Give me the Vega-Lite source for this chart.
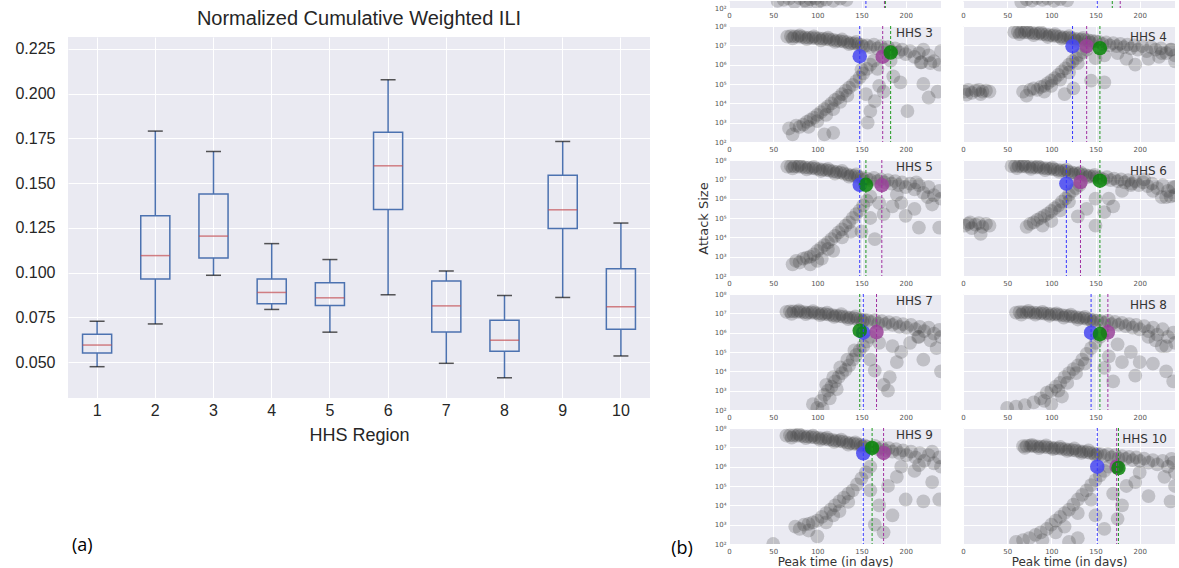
{
"$schema":"https://vega.github.io/schema/vega-lite/v6.json",
"background":"white",
"padding":{"left":14,"top":0,"right":0,"bottom":0},
"autosize":{"type":"pad"},
"config":{
 "view":{"fill":"#eaeaf2","stroke":null},
 "axis":{"domain":false,"ticks":false,"gridColor":"#ffffff","gridWidth":1,"gridOpacity":1,"labelFont":"DejaVu Sans","labelFontSize":7,"labelColor":"#555555","labelPadding":3,"titleFont":"DejaVu Sans","titleFontWeight":"normal","titleFontSize":12,"titleColor":"#333333"},
 "title":{"font":"DejaVu Sans","fontWeight":"normal"}
},
"datasets":{
"box":[
{"r":1,"lo":0.0474,"q1":0.0551,"med":0.0595,"q3":0.0655,"hi":0.0728},
{"r":2,"lo":0.0713,"q1":0.0964,"med":0.1095,"q3":0.1318,"hi":0.1791},
{"r":3,"lo":0.0985,"q1":0.1082,"med":0.1204,"q3":0.1439,"hi":0.1677},
{"r":4,"lo":0.0794,"q1":0.0826,"med":0.0889,"q3":0.0964,"hi":0.1162},
{"r":5,"lo":0.0667,"q1":0.0816,"med":0.0859,"q3":0.0943,"hi":0.1073},
{"r":6,"lo":0.0876,"q1":0.1353,"med":0.1597,"q3":0.1784,"hi":0.2078},
{"r":7,"lo":0.0493,"q1":0.0668,"med":0.0814,"q3":0.0953,"hi":0.1009},
{"r":8,"lo":0.0412,"q1":0.0560,"med":0.0622,"q3":0.0734,"hi":0.0872},
{"r":9,"lo":0.0861,"q1":0.1247,"med":0.1351,"q3":0.1544,"hi":0.1733},
{"r":10,"lo":0.0534,"q1":0.0683,"med":0.0809,"q3":0.1022,"hi":0.1277}
],
"est":[
{"p":1,"m":"blue","t":155,"a":5e6},{"p":1,"m":"purple","t":176,"a":5e6},{"p":1,"m":"green","t":177,"a":5e6},
{"p":2,"m":"blue","t":152,"a":5e6},{"p":2,"m":"purple","t":178,"a":5e6},{"p":2,"m":"green","t":169,"a":5e6},
{"p":3,"m":"blue","t":148,"a":2.75e6},{"p":3,"m":"purple","t":174,"a":2.6e6},{"p":3,"m":"green","t":183,"a":4.2e6},
{"p":4,"m":"blue","t":124,"a":9.1e6},{"p":4,"m":"purple","t":140,"a":9.1e6},{"p":4,"m":"green","t":155,"a":7.1e6},
{"p":5,"m":"blue","t":148,"a":5.2e6},{"p":5,"m":"purple","t":173,"a":5e6},{"p":5,"m":"green","t":155,"a":5.2e6},
{"p":6,"m":"blue","t":117,"a":6e6},{"p":6,"m":"purple","t":133,"a":7.2e6},{"p":6,"m":"green","t":155,"a":8.5e6},
{"p":7,"m":"blue","t":152,"a":1e6},{"p":7,"m":"purple","t":167,"a":1.07e6},{"p":7,"m":"green","t":148,"a":1.26e6},
{"p":8,"m":"blue","t":145,"a":1e6},{"p":8,"m":"purple","t":164,"a":1.05e6},{"p":8,"m":"green","t":155,"a":8.5e5},
{"p":9,"m":"blue","t":152,"a":4.9e6},{"p":9,"m":"purple","t":175,"a":5.1e6},{"p":9,"m":"green","t":162,"a":9.3e6},
{"p":10,"m":"blue","t":152,"a":1e6},{"p":10,"m":"purple","t":174,"a":1e6},{"p":10,"m":"green","t":176,"a":8.5e5}
],
"pts":[
{"p":1,"t":55,"a":230},{"p":1,"t":62,"a":260},{"p":1,"t":68,"a":300},{"p":1,"t":74,"a":200},{"p":1,"t":80,"a":320},{"p":1,"t":86,"a":250},{"p":1,"t":92,"a":290},{"p":1,"t":98,"a":310},{"p":1,"t":104,"a":240},{"p":1,"t":110,"a":270},{"p":1,"t":118,"a":230},{"p":1,"t":126,"a":300},{"p":1,"t":133,"a":260},{"p":1,"t":88,"a":180},{"p":1,"t":100,"a":190},
{"p":2,"t":66,"a":200},{"p":2,"t":72,"a":280},{"p":2,"t":78,"a":240},{"p":2,"t":84,"a":320},{"p":2,"t":90,"a":260},{"p":2,"t":96,"a":300},{"p":2,"t":103,"a":230},{"p":2,"t":110,"a":290},{"p":2,"t":118,"a":250},
{"p":3,"t":66,"a":2.8e7},{"p":3,"t":70,"a":3e7},{"p":3,"t":74,"a":2.9e7},{"p":3,"t":78,"a":2.8e7},{"p":3,"t":82,"a":2.7e7},{"p":3,"t":86,"a":2.6e7},{"p":3,"t":90,"a":2.5e7},{"p":3,"t":94,"a":2.45e7},{"p":3,"t":98,"a":2.35e7},{"p":3,"t":102,"a":2.3e7},{"p":3,"t":106,"a":2.2e7},{"p":3,"t":110,"a":2.1e7},{"p":3,"t":114,"a":2e7},{"p":3,"t":118,"a":1.9e7},{"p":3,"t":122,"a":1.75e7},{"p":3,"t":126,"a":1.65e7},{"p":3,"t":130,"a":1.55e7},{"p":3,"t":134,"a":1.45e7},{"p":3,"t":138,"a":1.3e7},{"p":3,"t":142,"a":1.25e7},{"p":3,"t":146,"a":1.15e7},{"p":3,"t":150,"a":1.05e7},
{"p":3,"t":72,"a":2.3e7},{"p":3,"t":80,"a":3.3e7},{"p":3,"t":88,"a":2.1e7},{"p":3,"t":96,"a":2.9e7},{"p":3,"t":104,"a":1.8e7},{"p":3,"t":112,"a":2.5e7},{"p":3,"t":120,"a":1.5e7},{"p":3,"t":128,"a":2e7},{"p":3,"t":136,"a":1.15e7},{"p":3,"t":144,"a":1.5e7},{"p":3,"t":152,"a":8.5e6},
{"p":3,"t":156,"a":1e7},{"p":3,"t":160,"a":8e6},{"p":3,"t":164,"a":1.1e7},{"p":3,"t":168,"a":7e6},{"p":3,"t":172,"a":9e6},{"p":3,"t":176,"a":6e6},{"p":3,"t":180,"a":8e6},{"p":3,"t":184,"a":5e6},{"p":3,"t":188,"a":7e6},{"p":3,"t":192,"a":4.5e6},{"p":3,"t":196,"a":6e6},{"p":3,"t":200,"a":3.5e6},{"p":3,"t":205,"a":5e6},{"p":3,"t":210,"a":2.5e6},{"p":3,"t":215,"a":4e6},{"p":3,"t":220,"a":6e6},{"p":3,"t":226,"a":3e6},{"p":3,"t":232,"a":1.5e6},{"p":3,"t":238,"a":1e6},{"p":3,"t":240,"a":5e6},{"p":3,"t":228,"a":1.2e6},{"p":3,"t":218,"a":1.3e6},
{"p":3,"t":68,"a":500},{"p":3,"t":72,"a":250},{"p":3,"t":76,"a":700},{"p":3,"t":80,"a":600},{"p":3,"t":84,"a":800},{"p":3,"t":88,"a":1100},{"p":3,"t":92,"a":1400},{"p":3,"t":96,"a":1800},{"p":3,"t":100,"a":2500},{"p":3,"t":104,"a":3500},{"p":3,"t":108,"a":5000},{"p":3,"t":112,"a":7000},{"p":3,"t":116,"a":1e4},{"p":3,"t":120,"a":1.5e4},{"p":3,"t":124,"a":2e4},{"p":3,"t":128,"a":3e4},{"p":3,"t":132,"a":4.5e4},{"p":3,"t":136,"a":6.5e4},{"p":3,"t":140,"a":9e4},{"p":3,"t":144,"a":1.4e5},{"p":3,"t":148,"a":2.2e5},{"p":3,"t":152,"a":3.5e5},{"p":3,"t":156,"a":6e5},{"p":3,"t":160,"a":1e6},{"p":3,"t":164,"a":1.6e6},{"p":3,"t":90,"a":600},{"p":3,"t":100,"a":1200},{"p":3,"t":110,"a":2500},{"p":3,"t":118,"a":5000},{"p":3,"t":126,"a":1.2e4},{"p":3,"t":134,"a":2.5e4},{"p":3,"t":108,"a":250},{"p":3,"t":118,"a":300},
{"p":3,"t":150,"a":5.6e5},{"p":3,"t":155,"a":3e4},{"p":3,"t":157,"a":1000},{"p":3,"t":160,"a":4000},{"p":3,"t":165,"a":1.3e4},{"p":3,"t":168,"a":6e5},{"p":3,"t":170,"a":8e4},{"p":3,"t":175,"a":4e4},{"p":3,"t":183,"a":1.6e6},{"p":3,"t":194,"a":1.2e5},{"p":3,"t":202,"a":4000},{"p":3,"t":217,"a":1.3e6},{"p":3,"t":220,"a":1e5},{"p":3,"t":226,"a":2e4},{"p":3,"t":236,"a":4e4},{"p":3,"t":186,"a":2.5e5},
{"p":4,"t":58,"a":4.8e7},{"p":4,"t":62,"a":5e7},{"p":4,"t":66,"a":4.8e7},{"p":4,"t":70,"a":4.7e7},{"p":4,"t":74,"a":4.5e7},{"p":4,"t":78,"a":4.4e7},{"p":4,"t":82,"a":4.2e7},{"p":4,"t":86,"a":4e7},{"p":4,"t":90,"a":3.8e7},{"p":4,"t":94,"a":3.6e7},{"p":4,"t":98,"a":3.4e7},{"p":4,"t":102,"a":3.2e7},{"p":4,"t":106,"a":3e7},{"p":4,"t":110,"a":2.8e7},{"p":4,"t":114,"a":2.6e7},{"p":4,"t":118,"a":2.5e7},{"p":4,"t":122,"a":2.35e7},{"p":4,"t":126,"a":2.2e7},{"p":4,"t":130,"a":2.1e7},{"p":4,"t":134,"a":2e7},{"p":4,"t":138,"a":1.9e7},{"p":4,"t":142,"a":1.8e7},{"p":4,"t":146,"a":1.7e7},{"p":4,"t":150,"a":1.6e7},
{"p":4,"t":64,"a":3.8e7},{"p":4,"t":72,"a":5.8e7},{"p":4,"t":80,"a":3.4e7},{"p":4,"t":88,"a":4.8e7},{"p":4,"t":96,"a":2.7e7},{"p":4,"t":104,"a":3.8e7},{"p":4,"t":112,"a":2.2e7},{"p":4,"t":120,"a":3e7},{"p":4,"t":128,"a":1.7e7},{"p":4,"t":136,"a":2.4e7},{"p":4,"t":144,"a":1.4e7},
{"p":4,"t":154,"a":1.5e7},{"p":4,"t":158,"a":1.2e7},{"p":4,"t":162,"a":1.4e7},{"p":4,"t":166,"a":1e7},{"p":4,"t":170,"a":1.3e7},{"p":4,"t":174,"a":9e6},{"p":4,"t":178,"a":1.2e7},{"p":4,"t":182,"a":8e6},{"p":4,"t":186,"a":1.1e7},{"p":4,"t":190,"a":7e6},{"p":4,"t":194,"a":1e7},{"p":4,"t":198,"a":6e6},{"p":4,"t":203,"a":9e6},{"p":4,"t":208,"a":5e6},{"p":4,"t":213,"a":8e6},{"p":4,"t":218,"a":6e6},{"p":4,"t":224,"a":7e6},{"p":4,"t":230,"a":4e6},{"p":4,"t":236,"a":6e6},{"p":4,"t":240,"a":3e6},{"p":4,"t":222,"a":2.5e6},
{"p":4,"t":2,"a":4e4},{"p":4,"t":6,"a":5e4},{"p":4,"t":10,"a":3.5e4},{"p":4,"t":14,"a":4.5e4},{"p":4,"t":18,"a":5e4},{"p":4,"t":22,"a":4e4},{"p":4,"t":26,"a":4.5e4},{"p":4,"t":30,"a":4e4},{"p":4,"t":4,"a":2.8e4},{"p":4,"t":20,"a":3e4},
{"p":4,"t":68,"a":4e4},{"p":4,"t":72,"a":2.5e4},{"p":4,"t":76,"a":5e4},{"p":4,"t":80,"a":6e4},{"p":4,"t":84,"a":5e4},{"p":4,"t":88,"a":7e4},{"p":4,"t":92,"a":8e4},{"p":4,"t":96,"a":1.1e5},{"p":4,"t":100,"a":1.5e5},{"p":4,"t":104,"a":2e5},{"p":4,"t":108,"a":3e5},{"p":4,"t":112,"a":4.5e5},{"p":4,"t":116,"a":6.5e5},{"p":4,"t":120,"a":1e6},{"p":4,"t":124,"a":1.5e6},{"p":4,"t":128,"a":2.2e6},{"p":4,"t":132,"a":3.2e6},{"p":4,"t":136,"a":4.5e6},{"p":4,"t":140,"a":6e6},{"p":4,"t":100,"a":8e4},{"p":4,"t":110,"a":1.7e5},{"p":4,"t":120,"a":4e5},{"p":4,"t":130,"a":1.2e6},{"p":4,"t":92,"a":4e4},
{"p":4,"t":115,"a":3e4},{"p":4,"t":125,"a":6e4},{"p":4,"t":150,"a":2.2e6},{"p":4,"t":160,"a":3e6},{"p":4,"t":175,"a":4e6},{"p":4,"t":185,"a":2e6},{"p":4,"t":195,"a":1e6},{"p":4,"t":210,"a":2e6},{"p":4,"t":225,"a":4e6},{"p":4,"t":235,"a":6e6},{"p":4,"t":240,"a":1.5e6},{"p":4,"t":160,"a":1.2e5},{"p":4,"t":145,"a":1.5e5},
{"p":5,"t":66,"a":4.6e7},{"p":5,"t":70,"a":4.8e7},{"p":5,"t":74,"a":4.7e7},{"p":5,"t":78,"a":4.5e7},{"p":5,"t":82,"a":4.4e7},{"p":5,"t":86,"a":4.2e7},{"p":5,"t":90,"a":4e7},{"p":5,"t":94,"a":3.8e7},{"p":5,"t":98,"a":3.6e7},{"p":5,"t":102,"a":3.4e7},{"p":5,"t":106,"a":3.2e7},{"p":5,"t":110,"a":3e7},{"p":5,"t":114,"a":2.8e7},{"p":5,"t":118,"a":2.6e7},{"p":5,"t":122,"a":2.4e7},{"p":5,"t":126,"a":2.2e7},{"p":5,"t":130,"a":2e7},{"p":5,"t":134,"a":1.8e7},{"p":5,"t":138,"a":1.6e7},{"p":5,"t":142,"a":1.5e7},{"p":5,"t":146,"a":1.35e7},{"p":5,"t":150,"a":1.25e7},
{"p":5,"t":72,"a":3.7e7},{"p":5,"t":80,"a":5.5e7},{"p":5,"t":88,"a":3.3e7},{"p":5,"t":96,"a":4.4e7},{"p":5,"t":104,"a":2.7e7},{"p":5,"t":112,"a":3.5e7},{"p":5,"t":120,"a":2e7},{"p":5,"t":128,"a":2.7e7},{"p":5,"t":136,"a":1.4e7},{"p":5,"t":144,"a":1.8e7},{"p":5,"t":152,"a":1e7},
{"p":5,"t":156,"a":1.1e7},{"p":5,"t":160,"a":9e6},{"p":5,"t":164,"a":1.2e7},{"p":5,"t":168,"a":8e6},{"p":5,"t":172,"a":1e7},{"p":5,"t":176,"a":7e6},{"p":5,"t":180,"a":9e6},{"p":5,"t":184,"a":6e6},{"p":5,"t":188,"a":8e6},{"p":5,"t":192,"a":5e6},{"p":5,"t":196,"a":7e6},{"p":5,"t":200,"a":4e6},{"p":5,"t":205,"a":6e6},{"p":5,"t":210,"a":3e6},{"p":5,"t":215,"a":5e6},{"p":5,"t":220,"a":2e6},{"p":5,"t":226,"a":4e6},{"p":5,"t":232,"a":1.5e6},{"p":5,"t":238,"a":2.5e6},{"p":5,"t":240,"a":1e6},{"p":5,"t":225,"a":1.2e6},{"p":5,"t":212,"a":7e6},
{"p":5,"t":72,"a":400},{"p":5,"t":76,"a":600},{"p":5,"t":80,"a":500},{"p":5,"t":84,"a":800},{"p":5,"t":88,"a":900},{"p":5,"t":92,"a":1000},{"p":5,"t":96,"a":1300},{"p":5,"t":100,"a":2000},{"p":5,"t":104,"a":2800},{"p":5,"t":108,"a":4000},{"p":5,"t":112,"a":5500},{"p":5,"t":116,"a":8000},{"p":5,"t":120,"a":1.2e4},{"p":5,"t":124,"a":1.8e4},{"p":5,"t":128,"a":2.6e4},{"p":5,"t":132,"a":4e4},{"p":5,"t":136,"a":6e4},{"p":5,"t":140,"a":1e5},{"p":5,"t":144,"a":1.6e5},{"p":5,"t":148,"a":2.5e5},{"p":5,"t":152,"a":4.5e5},{"p":5,"t":156,"a":8e5},{"p":5,"t":160,"a":1.3e6},{"p":5,"t":92,"a":400},{"p":5,"t":105,"a":800},{"p":5,"t":118,"a":2000},{"p":5,"t":128,"a":1e4},{"p":5,"t":138,"a":2e4},{"p":5,"t":100,"a":600},{"p":5,"t":112,"a":2500},
{"p":5,"t":150,"a":2e4},{"p":5,"t":165,"a":8000},{"p":5,"t":175,"a":1.6e5},{"p":5,"t":185,"a":4e5},{"p":5,"t":200,"a":1.3e5},{"p":5,"t":210,"a":3e5},{"p":5,"t":215,"a":3.2e4},{"p":5,"t":238,"a":3.2e4},{"p":5,"t":230,"a":5e5},{"p":5,"t":160,"a":1e5},{"p":5,"t":170,"a":6e5},{"p":5,"t":190,"a":1.6e6},{"p":5,"t":195,"a":6e5},
{"p":6,"t":55,"a":4.8e7},{"p":6,"t":59,"a":5e7},{"p":6,"t":63,"a":4.9e7},{"p":6,"t":67,"a":4.7e7},{"p":6,"t":71,"a":4.6e7},{"p":6,"t":75,"a":4.4e7},{"p":6,"t":79,"a":4.3e7},{"p":6,"t":83,"a":4.1e7},{"p":6,"t":87,"a":4e7},{"p":6,"t":91,"a":3.8e7},{"p":6,"t":95,"a":3.7e7},{"p":6,"t":99,"a":3.5e7},{"p":6,"t":103,"a":3.3e7},{"p":6,"t":107,"a":3.1e7},{"p":6,"t":111,"a":2.9e7},{"p":6,"t":115,"a":2.7e7},{"p":6,"t":119,"a":2.5e7},{"p":6,"t":123,"a":2.3e7},{"p":6,"t":127,"a":2.1e7},{"p":6,"t":131,"a":1.95e7},{"p":6,"t":135,"a":1.8e7},{"p":6,"t":139,"a":1.65e7},{"p":6,"t":143,"a":1.5e7},{"p":6,"t":147,"a":1.4e7},{"p":6,"t":151,"a":1.3e7},
{"p":6,"t":61,"a":3.8e7},{"p":6,"t":69,"a":5.6e7},{"p":6,"t":77,"a":3.5e7},{"p":6,"t":85,"a":4.8e7},{"p":6,"t":93,"a":3e7},{"p":6,"t":101,"a":4e7},{"p":6,"t":109,"a":2.4e7},{"p":6,"t":117,"a":3.2e7},{"p":6,"t":125,"a":1.8e7},{"p":6,"t":133,"a":2.3e7},{"p":6,"t":141,"a":1.3e7},{"p":6,"t":149,"a":1.7e7},
{"p":6,"t":155,"a":1.2e7},{"p":6,"t":159,"a":1e7},{"p":6,"t":163,"a":1.3e7},{"p":6,"t":167,"a":9e6},{"p":6,"t":171,"a":1.1e7},{"p":6,"t":175,"a":8e6},{"p":6,"t":179,"a":1e7},{"p":6,"t":183,"a":7e6},{"p":6,"t":187,"a":9e6},{"p":6,"t":191,"a":6e6},{"p":6,"t":195,"a":8e6},{"p":6,"t":199,"a":5e6},{"p":6,"t":204,"a":7e6},{"p":6,"t":209,"a":4.5e6},{"p":6,"t":214,"a":6e6},{"p":6,"t":220,"a":3.5e6},{"p":6,"t":226,"a":5e6},{"p":6,"t":232,"a":2.5e6},{"p":6,"t":238,"a":4e6},{"p":6,"t":240,"a":1.5e6},{"p":6,"t":230,"a":1.2e6},{"p":6,"t":205,"a":1e7},
{"p":6,"t":2,"a":4e4},{"p":6,"t":6,"a":5e4},{"p":6,"t":10,"a":3e4},{"p":6,"t":14,"a":4.5e4},{"p":6,"t":18,"a":5.5e4},{"p":6,"t":22,"a":3.5e4},{"p":6,"t":26,"a":5e4},{"p":6,"t":30,"a":4e4},{"p":6,"t":20,"a":1.5e4},{"p":6,"t":8,"a":6e4},
{"p":6,"t":72,"a":3.5e4},{"p":6,"t":76,"a":5e4},{"p":6,"t":80,"a":6e4},{"p":6,"t":84,"a":8e4},{"p":6,"t":88,"a":1e5},{"p":6,"t":92,"a":1.3e5},{"p":6,"t":96,"a":1.7e5},{"p":6,"t":100,"a":2.3e5},{"p":6,"t":104,"a":3.2e5},{"p":6,"t":108,"a":4.5e5},{"p":6,"t":112,"a":7e5},{"p":6,"t":116,"a":1e6},{"p":6,"t":120,"a":1.6e6},{"p":6,"t":124,"a":2.5e6},{"p":6,"t":128,"a":3.5e6},{"p":6,"t":132,"a":5e6},{"p":6,"t":90,"a":4e4},{"p":6,"t":100,"a":7e4},{"p":6,"t":110,"a":2.5e5},{"p":6,"t":120,"a":7e5},
{"p":6,"t":130,"a":1.2e5},{"p":6,"t":140,"a":3e5},{"p":6,"t":150,"a":1e6},{"p":6,"t":160,"a":2e5},{"p":6,"t":170,"a":4e5},{"p":6,"t":180,"a":2.5e6},{"p":6,"t":190,"a":5e6},{"p":6,"t":215,"a":2.5e6},{"p":6,"t":225,"a":1.2e6},{"p":6,"t":235,"a":1.3e6},{"p":6,"t":240,"a":4e6},{"p":6,"t":150,"a":4e4},{"p":6,"t":165,"a":1e6},
{"p":7,"t":65,"a":1.2e7},{"p":7,"t":69,"a":1.25e7},{"p":7,"t":73,"a":1.25e7},{"p":7,"t":77,"a":1.2e7},{"p":7,"t":81,"a":1.2e7},{"p":7,"t":85,"a":1.15e7},{"p":7,"t":89,"a":1.1e7},{"p":7,"t":93,"a":1.08e7},{"p":7,"t":97,"a":1.05e7},{"p":7,"t":101,"a":1e7},{"p":7,"t":105,"a":9.5e6},{"p":7,"t":109,"a":9e6},{"p":7,"t":113,"a":8.5e6},{"p":7,"t":117,"a":8e6},{"p":7,"t":121,"a":7.6e6},{"p":7,"t":125,"a":7.2e6},{"p":7,"t":129,"a":6.8e6},{"p":7,"t":133,"a":6.4e6},{"p":7,"t":137,"a":6e6},{"p":7,"t":141,"a":5.6e6},{"p":7,"t":145,"a":5.2e6},{"p":7,"t":149,"a":4.9e6},{"p":7,"t":153,"a":4.6e6},
{"p":7,"t":71,"a":9.5e6},{"p":7,"t":79,"a":1.4e7},{"p":7,"t":87,"a":9e6},{"p":7,"t":95,"a":1.3e7},{"p":7,"t":103,"a":8e6},{"p":7,"t":111,"a":1.1e7},{"p":7,"t":119,"a":6.5e6},{"p":7,"t":127,"a":9e6},{"p":7,"t":135,"a":5e6},{"p":7,"t":143,"a":7e6},{"p":7,"t":151,"a":4e6},
{"p":7,"t":157,"a":4.5e6},{"p":7,"t":161,"a":3.5e6},{"p":7,"t":165,"a":4.5e6},{"p":7,"t":169,"a":3e6},{"p":7,"t":173,"a":4e6},{"p":7,"t":177,"a":2.8e6},{"p":7,"t":181,"a":3.5e6},{"p":7,"t":185,"a":2.5e6},{"p":7,"t":189,"a":3.2e6},{"p":7,"t":193,"a":2e6},{"p":7,"t":197,"a":2.8e6},{"p":7,"t":201,"a":1.8e6},{"p":7,"t":206,"a":2.5e6},{"p":7,"t":211,"a":1.5e6},{"p":7,"t":216,"a":2e6},{"p":7,"t":221,"a":1.2e6},{"p":7,"t":226,"a":1.8e6},{"p":7,"t":232,"a":9e5},{"p":7,"t":238,"a":1.4e6},{"p":7,"t":240,"a":6e5},{"p":7,"t":228,"a":4e5},{"p":7,"t":214,"a":6e5},
{"p":7,"t":100,"a":130},{"p":7,"t":104,"a":300},{"p":7,"t":108,"a":600},{"p":7,"t":112,"a":1000},{"p":7,"t":116,"a":1600},{"p":7,"t":120,"a":3000},{"p":7,"t":124,"a":5000},{"p":7,"t":128,"a":8000},{"p":7,"t":132,"a":1.2e4},{"p":7,"t":136,"a":2e4},{"p":7,"t":140,"a":4e4},{"p":7,"t":144,"a":7e4},{"p":7,"t":148,"a":1.2e5},{"p":7,"t":152,"a":2e5},{"p":7,"t":156,"a":3.5e5},{"p":7,"t":160,"a":6e5},{"p":7,"t":95,"a":200},{"p":7,"t":106,"a":120},{"p":7,"t":110,"a":2000},{"p":7,"t":118,"a":5000},{"p":7,"t":126,"a":1.6e4},{"p":7,"t":134,"a":4e4},{"p":7,"t":142,"a":1.2e5},{"p":7,"t":114,"a":400},{"p":7,"t":122,"a":1200},
{"p":7,"t":165,"a":1.1e4},{"p":7,"t":175,"a":2000},{"p":7,"t":180,"a":1000},{"p":7,"t":190,"a":3e4},{"p":7,"t":205,"a":3e5},{"p":7,"t":220,"a":4e4},{"p":7,"t":235,"a":1.6e5},{"p":7,"t":240,"a":1e4},{"p":7,"t":170,"a":3e5},{"p":7,"t":185,"a":2e5},{"p":7,"t":195,"a":1e5},{"p":7,"t":215,"a":6e5},{"p":7,"t":160,"a":4e4},{"p":7,"t":182,"a":5000},
{"p":8,"t":60,"a":1.1e7},{"p":8,"t":64,"a":1.15e7},{"p":8,"t":68,"a":1.15e7},{"p":8,"t":72,"a":1.12e7},{"p":8,"t":76,"a":1.1e7},{"p":8,"t":80,"a":1.08e7},{"p":8,"t":84,"a":1.05e7},{"p":8,"t":88,"a":1e7},{"p":8,"t":92,"a":9.8e6},{"p":8,"t":96,"a":9.5e6},{"p":8,"t":100,"a":9.2e6},{"p":8,"t":104,"a":8.8e6},{"p":8,"t":108,"a":8.4e6},{"p":8,"t":112,"a":8e6},{"p":8,"t":116,"a":7.6e6},{"p":8,"t":120,"a":7.2e6},{"p":8,"t":124,"a":6.8e6},{"p":8,"t":128,"a":6.4e6},{"p":8,"t":132,"a":6e6},{"p":8,"t":136,"a":5.6e6},{"p":8,"t":140,"a":5.2e6},{"p":8,"t":144,"a":4.8e6},{"p":8,"t":148,"a":4.5e6},{"p":8,"t":152,"a":4.2e6},
{"p":8,"t":66,"a":8.5e6},{"p":8,"t":74,"a":1.35e7},{"p":8,"t":82,"a":8.5e6},{"p":8,"t":90,"a":1.2e7},{"p":8,"t":98,"a":7.5e6},{"p":8,"t":106,"a":1e7},{"p":8,"t":114,"a":6e6},{"p":8,"t":122,"a":8.5e6},{"p":8,"t":130,"a":4.8e6},{"p":8,"t":138,"a":6.5e6},{"p":8,"t":146,"a":3.8e6},
{"p":8,"t":156,"a":4e6},{"p":8,"t":160,"a":3.2e6},{"p":8,"t":164,"a":4.2e6},{"p":8,"t":168,"a":2.8e6},{"p":8,"t":172,"a":3.6e6},{"p":8,"t":176,"a":2.5e6},{"p":8,"t":180,"a":3.2e6},{"p":8,"t":184,"a":2.2e6},{"p":8,"t":188,"a":2.8e6},{"p":8,"t":192,"a":1.8e6},{"p":8,"t":196,"a":2.5e6},{"p":8,"t":200,"a":1.5e6},{"p":8,"t":205,"a":2.2e6},{"p":8,"t":210,"a":1.2e6},{"p":8,"t":215,"a":1.8e6},{"p":8,"t":220,"a":8e5},{"p":8,"t":226,"a":1.5e6},{"p":8,"t":232,"a":6e5},{"p":8,"t":238,"a":1e6},{"p":8,"t":240,"a":3e5},{"p":8,"t":230,"a":2e5},{"p":8,"t":218,"a":4e5},
{"p":8,"t":50,"a":130},{"p":8,"t":60,"a":150},{"p":8,"t":70,"a":180},{"p":8,"t":80,"a":250},{"p":8,"t":88,"a":400},{"p":8,"t":95,"a":800},{"p":8,"t":100,"a":1000},{"p":8,"t":105,"a":1600},{"p":8,"t":110,"a":2500},{"p":8,"t":115,"a":5000},{"p":8,"t":120,"a":8000},{"p":8,"t":125,"a":1.3e4},{"p":8,"t":130,"a":2e4},{"p":8,"t":135,"a":4e4},{"p":8,"t":140,"a":8e4},{"p":8,"t":145,"a":1.6e5},{"p":8,"t":150,"a":3e5},{"p":8,"t":155,"a":6e5},{"p":8,"t":92,"a":300},{"p":8,"t":108,"a":1000},{"p":8,"t":118,"a":2500},{"p":8,"t":128,"a":8000},{"p":8,"t":138,"a":2.5e4},{"p":8,"t":100,"a":200},{"p":8,"t":112,"a":500},
{"p":8,"t":170,"a":3000},{"p":8,"t":180,"a":3e4},{"p":8,"t":190,"a":1e5},{"p":8,"t":200,"a":3e4},{"p":8,"t":215,"a":2.5e4},{"p":8,"t":230,"a":1e4},{"p":8,"t":238,"a":3000},{"p":8,"t":225,"a":2e5},{"p":8,"t":165,"a":6e4},{"p":8,"t":175,"a":2.5e5},{"p":8,"t":210,"a":6e5},{"p":8,"t":195,"a":6000},{"p":8,"t":160,"a":1.5e4},
{"p":9,"t":65,"a":4e7},{"p":9,"t":69,"a":4.2e7},{"p":9,"t":73,"a":4.1e7},{"p":9,"t":77,"a":4e7},{"p":9,"t":81,"a":3.9e7},{"p":9,"t":85,"a":3.7e7},{"p":9,"t":89,"a":3.6e7},{"p":9,"t":93,"a":3.4e7},{"p":9,"t":97,"a":3.3e7},{"p":9,"t":101,"a":3.1e7},{"p":9,"t":105,"a":2.9e7},{"p":9,"t":109,"a":2.7e7},{"p":9,"t":113,"a":2.5e7},{"p":9,"t":117,"a":2.4e7},{"p":9,"t":121,"a":2.2e7},{"p":9,"t":125,"a":2.1e7},{"p":9,"t":129,"a":1.95e7},{"p":9,"t":133,"a":1.8e7},{"p":9,"t":137,"a":1.65e7},{"p":9,"t":141,"a":1.55e7},{"p":9,"t":145,"a":1.45e7},{"p":9,"t":149,"a":1.35e7},{"p":9,"t":153,"a":1.25e7},
{"p":9,"t":71,"a":3.2e7},{"p":9,"t":79,"a":4.8e7},{"p":9,"t":87,"a":3e7},{"p":9,"t":95,"a":4e7},{"p":9,"t":103,"a":2.4e7},{"p":9,"t":111,"a":3.2e7},{"p":9,"t":119,"a":1.9e7},{"p":9,"t":127,"a":2.5e7},{"p":9,"t":135,"a":1.4e7},{"p":9,"t":143,"a":1.8e7},{"p":9,"t":151,"a":1.1e7},
{"p":9,"t":157,"a":1.1e7},{"p":9,"t":161,"a":9e6},{"p":9,"t":165,"a":1.2e7},{"p":9,"t":169,"a":8e6},{"p":9,"t":173,"a":1e7},{"p":9,"t":177,"a":7e6},{"p":9,"t":181,"a":9e6},{"p":9,"t":185,"a":6e6},{"p":9,"t":189,"a":8e6},{"p":9,"t":193,"a":5e6},{"p":9,"t":197,"a":7e6},{"p":9,"t":201,"a":4e6},{"p":9,"t":206,"a":6e6},{"p":9,"t":211,"a":3e6},{"p":9,"t":216,"a":5e6},{"p":9,"t":221,"a":2e6},{"p":9,"t":226,"a":4e6},{"p":9,"t":232,"a":1.5e6},{"p":9,"t":238,"a":3e6},{"p":9,"t":240,"a":1e6},{"p":9,"t":230,"a":6e6},{"p":9,"t":215,"a":1.2e6},
{"p":9,"t":75,"a":800},{"p":9,"t":80,"a":600},{"p":9,"t":85,"a":1000},{"p":9,"t":90,"a":1100},{"p":9,"t":95,"a":1300},{"p":9,"t":100,"a":1600},{"p":9,"t":105,"a":2500},{"p":9,"t":110,"a":4000},{"p":9,"t":115,"a":6000},{"p":9,"t":120,"a":1e4},{"p":9,"t":125,"a":1.6e4},{"p":9,"t":130,"a":2.5e4},{"p":9,"t":135,"a":4e4},{"p":9,"t":140,"a":6e4},{"p":9,"t":145,"a":1.2e5},{"p":9,"t":150,"a":2.5e5},{"p":9,"t":155,"a":5e5},{"p":9,"t":160,"a":1e6},{"p":9,"t":50,"a":100},{"p":9,"t":100,"a":250},{"p":9,"t":110,"a":1300},{"p":9,"t":125,"a":5000},{"p":9,"t":90,"a":500},{"p":9,"t":118,"a":3000},{"p":9,"t":135,"a":1.5e4},
{"p":9,"t":165,"a":1000},{"p":9,"t":175,"a":400},{"p":9,"t":170,"a":1e4},{"p":9,"t":180,"a":1e5},{"p":9,"t":190,"a":3e5},{"p":9,"t":200,"a":2e4},{"p":9,"t":220,"a":1.6e4},{"p":9,"t":238,"a":2e4},{"p":9,"t":230,"a":1.6e5},{"p":9,"t":185,"a":3000},{"p":9,"t":210,"a":6e5},{"p":9,"t":160,"a":6e4},{"p":9,"t":195,"a":1e6},
{"p":10,"t":68,"a":1.15e7},{"p":10,"t":72,"a":1.2e7},{"p":10,"t":76,"a":1.18e7},{"p":10,"t":80,"a":1.15e7},{"p":10,"t":84,"a":1.12e7},{"p":10,"t":88,"a":1.1e7},{"p":10,"t":92,"a":1.05e7},{"p":10,"t":96,"a":1e7},{"p":10,"t":100,"a":9.6e6},{"p":10,"t":104,"a":9.2e6},{"p":10,"t":108,"a":8.8e6},{"p":10,"t":112,"a":8.4e6},{"p":10,"t":116,"a":8e6},{"p":10,"t":120,"a":7.6e6},{"p":10,"t":124,"a":7.2e6},{"p":10,"t":128,"a":6.8e6},{"p":10,"t":132,"a":6.4e6},{"p":10,"t":136,"a":6e6},{"p":10,"t":140,"a":5.6e6},{"p":10,"t":144,"a":5.2e6},{"p":10,"t":148,"a":4.9e6},{"p":10,"t":152,"a":4.6e6},
{"p":10,"t":70,"a":9.5e6},{"p":10,"t":78,"a":1.35e7},{"p":10,"t":86,"a":9e6},{"p":10,"t":94,"a":1.25e7},{"p":10,"t":102,"a":8e6},{"p":10,"t":110,"a":1.05e7},{"p":10,"t":118,"a":6.5e6},{"p":10,"t":126,"a":8.8e6},{"p":10,"t":134,"a":5.2e6},{"p":10,"t":142,"a":7e6},{"p":10,"t":150,"a":4e6},
{"p":10,"t":156,"a":4.4e6},{"p":10,"t":160,"a":3.6e6},{"p":10,"t":164,"a":4.5e6},{"p":10,"t":168,"a":3e6},{"p":10,"t":172,"a":4e6},{"p":10,"t":176,"a":2.8e6},{"p":10,"t":180,"a":3.5e6},{"p":10,"t":184,"a":2.5e6},{"p":10,"t":188,"a":3.2e6},{"p":10,"t":192,"a":2.2e6},{"p":10,"t":196,"a":3e6},{"p":10,"t":200,"a":2e6},{"p":10,"t":205,"a":2.6e6},{"p":10,"t":210,"a":1.6e6},{"p":10,"t":215,"a":2.2e6},{"p":10,"t":220,"a":1.3e6},{"p":10,"t":226,"a":2e6},{"p":10,"t":232,"a":1e6},{"p":10,"t":238,"a":1.6e6},{"p":10,"t":240,"a":5e5},{"p":10,"t":228,"a":3e5},{"p":10,"t":236,"a":2.5e6},
{"p":10,"t":60,"a":130},{"p":10,"t":68,"a":160},{"p":10,"t":75,"a":200},{"p":10,"t":82,"a":300},{"p":10,"t":88,"a":400},{"p":10,"t":95,"a":600},{"p":10,"t":100,"a":1000},{"p":10,"t":105,"a":1600},{"p":10,"t":110,"a":2500},{"p":10,"t":115,"a":4000},{"p":10,"t":120,"a":6000},{"p":10,"t":125,"a":1.1e4},{"p":10,"t":130,"a":2e4},{"p":10,"t":135,"a":3.5e4},{"p":10,"t":140,"a":6e4},{"p":10,"t":145,"a":1.1e5},{"p":10,"t":150,"a":2e5},{"p":10,"t":155,"a":3.5e5},{"p":10,"t":160,"a":6e5},{"p":10,"t":165,"a":1e6},{"p":10,"t":90,"a":160},{"p":10,"t":115,"a":800},{"p":10,"t":130,"a":4000},{"p":10,"t":145,"a":2e4},{"p":10,"t":105,"a":400},
{"p":10,"t":120,"a":130},{"p":10,"t":130,"a":200},{"p":10,"t":160,"a":600},{"p":10,"t":175,"a":2000},{"p":10,"t":180,"a":1e4},{"p":10,"t":195,"a":1.6e5},{"p":10,"t":210,"a":3e4},{"p":10,"t":235,"a":1.6e4},{"p":10,"t":240,"a":1e5},{"p":10,"t":170,"a":4e4},{"p":10,"t":185,"a":1e5},{"p":10,"t":200,"a":5e5},{"p":10,"t":150,"a":3000}
]
},
"concat":[
{
 "concat":[
  {"width":60,"height":4,"view":{"fill":"#ffffff","stroke":null},"data":{"values":[{"z":0}]},"mark":{"type":"point","opacity":0}},
  {
   "width":582,"height":361,
   "data":{"name":"box"},
   "title":{"text":"Normalized Cumulative Weighted ILI","font":"Liberation Sans","fontSize":20,"fontWeight":"normal","color":"#262626","offset":8,"anchor":"middle"},
   "encoding":{"x":{"field":"r","type":"ordinal","title":"HHS Region","scale":{"paddingInner":0.5,"paddingOuter":0.25},"axis":{"labelAngle":0,"labelFont":"Liberation Sans","labelFontSize":16,"labelColor":"#262626","labelPadding":4,"titleFont":"Liberation Sans","titleFontSize":18,"titleColor":"#262626","titlePadding":8,"grid":true,"bandPosition":0.5}}},
   "layer":[
    {"mark":{"type":"rule","color":"#4c72b0","strokeWidth":1.5},"encoding":{"y":{"field":"lo","type":"quantitative","title":null,"scale":{"domain":[0.0299,0.2317],"nice":false,"zero":false},"axis":{"values":[0.05,0.075,0.1,0.125,0.15,0.175,0.2,0.225],"format":".3f","labelFont":"Liberation Sans","labelFontSize":16,"labelColor":"#262626","labelPadding":13,"grid":true}},"y2":{"field":"q1"}}},
    {"mark":{"type":"rule","color":"#4c72b0","strokeWidth":1.5},"encoding":{"y":{"field":"q3","type":"quantitative"},"y2":{"field":"hi"}}},
    {"mark":{"type":"bar","fillOpacity":0,"stroke":"#4c72b0","strokeWidth":1.5},"encoding":{"y":{"field":"q1","type":"quantitative"},"y2":{"field":"q3"}}},
    {"mark":{"type":"tick","color":"#c44e52","thickness":1.5,"size":29},"encoding":{"y":{"field":"med","type":"quantitative"}}},
    {"mark":{"type":"tick","color":"#111111","thickness":1.5,"size":15},"encoding":{"y":{"field":"lo","type":"quantitative"}}},
    {"mark":{"type":"tick","color":"#111111","thickness":1.5,"size":15},"encoding":{"y":{"field":"hi","type":"quantitative"}}}
   ]
  }
 ],
 "columns":1,"align":"none","spacing":3,"bounds":"full",
 "title":{"text":"(a)","orient":"bottom","anchor":"start","frame":"bounds","font":"Open Sans","fontSize":18,"fontWeight":"normal","color":"#000000","offset":93,"dx":57}
},
{
 "concat":[
  {"width":212,"height":7,"layer":[
   {"data":{"name":"pts"},"transform":[{"filter":"datum.p==1"}],"mark":{"type":"circle","size":190,"color":"#3c3c3c","opacity":0.24,"clip":true},"encoding":{"x":{"field":"t","type":"quantitative","title":null,"scale":{"domain":[0,240],"nice":false,"zero":false},"axis":{"values":[0,50,100,150,200],"labelFlush":false}},"y":{"field":"a","type":"quantitative","title":null,"scale":{"type":"log","domain":[100,229],"nice":false},"axis":{"values":[100],"labelExpr":"'10' + ['⁰','¹','²','³','⁴','⁵','⁶','⁷','⁸'][round(log(datum.value)/LN10)]"}}}},
   {"data":{"name":"est"},"transform":[{"filter":"datum.p==1"}],"mark":{"type":"circle","size":210,"opacity":0.85,"clip":true},"encoding":{"x":{"field":"t","type":"quantitative"},"y":{"field":"a","type":"quantitative"},"fill":{"field":"m","type":"nominal","scale":{"domain":["blue","purple","green"],"range":["#4646f0","#994499","#078507"]},"legend":null}}},
   {"data":{"name":"est"},"transform":[{"filter":"datum.p==1"}],"mark":{"type":"rule","strokeDash":[3,2],"strokeWidth":1},"encoding":{"x":{"field":"t","type":"quantitative"},"stroke":{"field":"m","type":"nominal","scale":{"domain":["blue","purple","green"],"range":["#3535ff","#a030a0","#1f9a1f"]},"legend":null}}}
  ]},
  {"width":212,"height":7,"layer":[
   {"data":{"name":"pts"},"transform":[{"filter":"datum.p==2"}],"mark":{"type":"circle","size":190,"color":"#3c3c3c","opacity":0.24,"clip":true},"encoding":{"x":{"field":"t","type":"quantitative","title":null,"scale":{"domain":[0,240],"nice":false,"zero":false},"axis":{"values":[0,50,100,150,200],"labelFlush":false}},"y":{"field":"a","type":"quantitative","title":null,"scale":{"type":"log","domain":[100,229],"nice":false},"axis":{"values":[100],"labels":false}}}},
   {"data":{"name":"est"},"transform":[{"filter":"datum.p==2"}],"mark":{"type":"circle","size":210,"opacity":0.85,"clip":true},"encoding":{"x":{"field":"t","type":"quantitative"},"y":{"field":"a","type":"quantitative"},"fill":{"field":"m","type":"nominal","scale":{"domain":["blue","purple","green"],"range":["#4646f0","#994499","#078507"]},"legend":null}}},
   {"data":{"name":"est"},"transform":[{"filter":"datum.p==2"}],"mark":{"type":"rule","strokeDash":[3,2],"strokeWidth":1},"encoding":{"x":{"field":"t","type":"quantitative"},"stroke":{"field":"m","type":"nominal","scale":{"domain":["blue","purple","green"],"range":["#3535ff","#a030a0","#1f9a1f"]},"legend":null}}}
  ]},
  {"width":212,"height":116,"title":{"text":"HHS 3","anchor":"end","offset":-18,"dx":-8,"fontSize":12,"color":"#333333","frame":"group"},"layer":[
   {"data":{"name":"pts"},"transform":[{"filter":"datum.p==3"}],"mark":{"type":"circle","size":190,"color":"#3c3c3c","opacity":0.24,"clip":true},"encoding":{"x":{"field":"t","type":"quantitative","title":null,"scale":{"domain":[0,240],"nice":false,"zero":false},"axis":{"values":[0,50,100,150,200],"labelFlush":false}},"y":{"field":"a","type":"quantitative","title":null,"scale":{"type":"log","domain":[100,100000000],"nice":false},"axis":{"values":[100,1000,10000,100000,1000000,10000000,100000000],"labelExpr":"'10' + ['⁰','¹','²','³','⁴','⁵','⁶','⁷','⁸'][round(log(datum.value)/LN10)]"}}}},
   {"data":{"name":"est"},"transform":[{"filter":"datum.p==3"}],"mark":{"type":"circle","size":210,"opacity":0.85,"clip":true},"encoding":{"x":{"field":"t","type":"quantitative"},"y":{"field":"a","type":"quantitative"},"fill":{"field":"m","type":"nominal","scale":{"domain":["blue","purple","green"],"range":["#4646f0","#994499","#078507"]},"legend":null}}},
   {"data":{"name":"est"},"transform":[{"filter":"datum.p==3"}],"mark":{"type":"rule","strokeDash":[3,2],"strokeWidth":1},"encoding":{"x":{"field":"t","type":"quantitative"},"stroke":{"field":"m","type":"nominal","scale":{"domain":["blue","purple","green"],"range":["#3535ff","#a030a0","#1f9a1f"]},"legend":null}}}
  ]},
  {"width":212,"height":116,"title":{"text":"HHS 4","anchor":"end","offset":-18,"dx":-8,"fontSize":12,"color":"#333333","frame":"group"},"layer":[
   {"data":{"name":"pts"},"transform":[{"filter":"datum.p==4"}],"mark":{"type":"circle","size":190,"color":"#3c3c3c","opacity":0.24,"clip":true},"encoding":{"x":{"field":"t","type":"quantitative","title":null,"scale":{"domain":[0,240],"nice":false,"zero":false},"axis":{"values":[0,50,100,150,200],"labelFlush":false}},"y":{"field":"a","type":"quantitative","title":null,"scale":{"type":"log","domain":[100,100000000],"nice":false},"axis":{"values":[100,1000,10000,100000,1000000,10000000,100000000],"labels":false}}}},
   {"data":{"name":"est"},"transform":[{"filter":"datum.p==4"}],"mark":{"type":"circle","size":210,"opacity":0.85,"clip":true},"encoding":{"x":{"field":"t","type":"quantitative"},"y":{"field":"a","type":"quantitative"},"fill":{"field":"m","type":"nominal","scale":{"domain":["blue","purple","green"],"range":["#4646f0","#994499","#078507"]},"legend":null}}},
   {"data":{"name":"est"},"transform":[{"filter":"datum.p==4"}],"mark":{"type":"rule","strokeDash":[3,2],"strokeWidth":1},"encoding":{"x":{"field":"t","type":"quantitative"},"stroke":{"field":"m","type":"nominal","scale":{"domain":["blue","purple","green"],"range":["#3535ff","#a030a0","#1f9a1f"]},"legend":null}}}
  ]},
  {"width":212,"height":116,"title":{"text":"HHS 5","anchor":"end","offset":-18,"dx":-8,"fontSize":12,"color":"#333333","frame":"group"},"layer":[
   {"data":{"name":"pts"},"transform":[{"filter":"datum.p==5"}],"mark":{"type":"circle","size":190,"color":"#3c3c3c","opacity":0.24,"clip":true},"encoding":{"x":{"field":"t","type":"quantitative","title":null,"scale":{"domain":[0,240],"nice":false,"zero":false},"axis":{"values":[0,50,100,150,200],"labelFlush":false}},"y":{"field":"a","type":"quantitative","title":"Attack Size","scale":{"type":"log","domain":[100,100000000],"nice":false},"axis":{"values":[100,1000,10000,100000,1000000,10000000,100000000],"titleFontSize":13,"titlePadding":4,"labelExpr":"'10' + ['⁰','¹','²','³','⁴','⁵','⁶','⁷','⁸'][round(log(datum.value)/LN10)]"}}}},
   {"data":{"name":"est"},"transform":[{"filter":"datum.p==5"}],"mark":{"type":"circle","size":210,"opacity":0.85,"clip":true},"encoding":{"x":{"field":"t","type":"quantitative"},"y":{"field":"a","type":"quantitative"},"fill":{"field":"m","type":"nominal","scale":{"domain":["blue","purple","green"],"range":["#4646f0","#994499","#078507"]},"legend":null}}},
   {"data":{"name":"est"},"transform":[{"filter":"datum.p==5"}],"mark":{"type":"rule","strokeDash":[3,2],"strokeWidth":1},"encoding":{"x":{"field":"t","type":"quantitative"},"stroke":{"field":"m","type":"nominal","scale":{"domain":["blue","purple","green"],"range":["#3535ff","#a030a0","#1f9a1f"]},"legend":null}}}
  ]},
  {"width":212,"height":116,"title":{"text":"HHS 6","anchor":"end","offset":-18,"dx":-8,"fontSize":12,"color":"#333333","frame":"group"},"layer":[
   {"data":{"name":"pts"},"transform":[{"filter":"datum.p==6"}],"mark":{"type":"circle","size":190,"color":"#3c3c3c","opacity":0.24,"clip":true},"encoding":{"x":{"field":"t","type":"quantitative","title":null,"scale":{"domain":[0,240],"nice":false,"zero":false},"axis":{"values":[0,50,100,150,200],"labelFlush":false}},"y":{"field":"a","type":"quantitative","title":null,"scale":{"type":"log","domain":[100,100000000],"nice":false},"axis":{"values":[100,1000,10000,100000,1000000,10000000,100000000],"labels":false}}}},
   {"data":{"name":"est"},"transform":[{"filter":"datum.p==6"}],"mark":{"type":"circle","size":210,"opacity":0.85,"clip":true},"encoding":{"x":{"field":"t","type":"quantitative"},"y":{"field":"a","type":"quantitative"},"fill":{"field":"m","type":"nominal","scale":{"domain":["blue","purple","green"],"range":["#4646f0","#994499","#078507"]},"legend":null}}},
   {"data":{"name":"est"},"transform":[{"filter":"datum.p==6"}],"mark":{"type":"rule","strokeDash":[3,2],"strokeWidth":1},"encoding":{"x":{"field":"t","type":"quantitative"},"stroke":{"field":"m","type":"nominal","scale":{"domain":["blue","purple","green"],"range":["#3535ff","#a030a0","#1f9a1f"]},"legend":null}}}
  ]},
  {"width":212,"height":116,"title":{"text":"HHS 7","anchor":"end","offset":-18,"dx":-8,"fontSize":12,"color":"#333333","frame":"group"},"layer":[
   {"data":{"name":"pts"},"transform":[{"filter":"datum.p==7"}],"mark":{"type":"circle","size":190,"color":"#3c3c3c","opacity":0.24,"clip":true},"encoding":{"x":{"field":"t","type":"quantitative","title":null,"scale":{"domain":[0,240],"nice":false,"zero":false},"axis":{"values":[0,50,100,150,200],"labelFlush":false}},"y":{"field":"a","type":"quantitative","title":null,"scale":{"type":"log","domain":[100,100000000],"nice":false},"axis":{"values":[100,1000,10000,100000,1000000,10000000,100000000],"labelExpr":"'10' + ['⁰','¹','²','³','⁴','⁵','⁶','⁷','⁸'][round(log(datum.value)/LN10)]"}}}},
   {"data":{"name":"est"},"transform":[{"filter":"datum.p==7"}],"mark":{"type":"circle","size":210,"opacity":0.85,"clip":true},"encoding":{"x":{"field":"t","type":"quantitative"},"y":{"field":"a","type":"quantitative"},"fill":{"field":"m","type":"nominal","scale":{"domain":["blue","purple","green"],"range":["#4646f0","#994499","#078507"]},"legend":null}}},
   {"data":{"name":"est"},"transform":[{"filter":"datum.p==7"}],"mark":{"type":"rule","strokeDash":[3,2],"strokeWidth":1},"encoding":{"x":{"field":"t","type":"quantitative"},"stroke":{"field":"m","type":"nominal","scale":{"domain":["blue","purple","green"],"range":["#3535ff","#a030a0","#1f9a1f"]},"legend":null}}}
  ]},
  {"width":212,"height":116,"title":{"text":"HHS 8","anchor":"end","offset":-18,"dx":-8,"fontSize":12,"color":"#333333","frame":"group"},"layer":[
   {"data":{"name":"pts"},"transform":[{"filter":"datum.p==8"}],"mark":{"type":"circle","size":190,"color":"#3c3c3c","opacity":0.24,"clip":true},"encoding":{"x":{"field":"t","type":"quantitative","title":null,"scale":{"domain":[0,240],"nice":false,"zero":false},"axis":{"values":[0,50,100,150,200],"labelFlush":false}},"y":{"field":"a","type":"quantitative","title":null,"scale":{"type":"log","domain":[100,100000000],"nice":false},"axis":{"values":[100,1000,10000,100000,1000000,10000000,100000000],"labels":false}}}},
   {"data":{"name":"est"},"transform":[{"filter":"datum.p==8"}],"mark":{"type":"circle","size":210,"opacity":0.85,"clip":true},"encoding":{"x":{"field":"t","type":"quantitative"},"y":{"field":"a","type":"quantitative"},"fill":{"field":"m","type":"nominal","scale":{"domain":["blue","purple","green"],"range":["#4646f0","#994499","#078507"]},"legend":null}}},
   {"data":{"name":"est"},"transform":[{"filter":"datum.p==8"}],"mark":{"type":"rule","strokeDash":[3,2],"strokeWidth":1},"encoding":{"x":{"field":"t","type":"quantitative"},"stroke":{"field":"m","type":"nominal","scale":{"domain":["blue","purple","green"],"range":["#3535ff","#a030a0","#1f9a1f"]},"legend":null}}}
  ]},
  {"width":212,"height":116,"title":{"text":"HHS 9","anchor":"end","offset":-18,"dx":-8,"fontSize":12,"color":"#333333","frame":"group"},"layer":[
   {"data":{"name":"pts"},"transform":[{"filter":"datum.p==9"}],"mark":{"type":"circle","size":190,"color":"#3c3c3c","opacity":0.24,"clip":true},"encoding":{"x":{"field":"t","type":"quantitative","title":"Peak time (in days)","scale":{"domain":[0,240],"nice":false,"zero":false},"axis":{"values":[0,50,100,150,200],"labelFlush":false,"titlePadding":2}},"y":{"field":"a","type":"quantitative","title":null,"scale":{"type":"log","domain":[100,100000000],"nice":false},"axis":{"values":[100,1000,10000,100000,1000000,10000000,100000000],"labelExpr":"'10' + ['⁰','¹','²','³','⁴','⁵','⁶','⁷','⁸'][round(log(datum.value)/LN10)]"}}}},
   {"data":{"name":"est"},"transform":[{"filter":"datum.p==9"}],"mark":{"type":"circle","size":210,"opacity":0.85,"clip":true},"encoding":{"x":{"field":"t","type":"quantitative"},"y":{"field":"a","type":"quantitative"},"fill":{"field":"m","type":"nominal","scale":{"domain":["blue","purple","green"],"range":["#4646f0","#994499","#078507"]},"legend":null}}},
   {"data":{"name":"est"},"transform":[{"filter":"datum.p==9"}],"mark":{"type":"rule","strokeDash":[3,2],"strokeWidth":1},"encoding":{"x":{"field":"t","type":"quantitative"},"stroke":{"field":"m","type":"nominal","scale":{"domain":["blue","purple","green"],"range":["#3535ff","#a030a0","#1f9a1f"]},"legend":null}}}
  ]},
  {"width":212,"height":116,"title":{"text":"HHS 10","anchor":"end","offset":-18,"dx":-8,"fontSize":12,"color":"#333333","frame":"group"},"layer":[
   {"data":{"name":"pts"},"transform":[{"filter":"datum.p==10"}],"mark":{"type":"circle","size":190,"color":"#3c3c3c","opacity":0.24,"clip":true},"encoding":{"x":{"field":"t","type":"quantitative","title":"Peak time (in days)","scale":{"domain":[0,240],"nice":false,"zero":false},"axis":{"values":[0,50,100,150,200],"labelFlush":false,"titlePadding":2}},"y":{"field":"a","type":"quantitative","title":null,"scale":{"type":"log","domain":[100,100000000],"nice":false},"axis":{"values":[100,1000,10000,100000,1000000,10000000,100000000],"labels":false}}}},
   {"data":{"name":"est"},"transform":[{"filter":"datum.p==10"}],"mark":{"type":"circle","size":210,"opacity":0.85,"clip":true},"encoding":{"x":{"field":"t","type":"quantitative"},"y":{"field":"a","type":"quantitative"},"fill":{"field":"m","type":"nominal","scale":{"domain":["blue","purple","green"],"range":["#4646f0","#994499","#078507"]},"legend":null}}},
   {"data":{"name":"est"},"transform":[{"filter":"datum.p==10"}],"mark":{"type":"rule","strokeDash":[3,2],"strokeWidth":1},"encoding":{"x":{"field":"t","type":"quantitative"},"stroke":{"field":"m","type":"nominal","scale":{"domain":["blue","purple","green"],"range":["#3535ff","#a030a0","#1f9a1f"]},"legend":null}}}
  ]}
 ],
 "columns":2,"align":"each","bounds":"flush","spacing":{"row":18,"column":22},
 "title":{"text":"(b)","orient":"bottom","anchor":"start","frame":"bounds","font":"Open Sans","fontSize":18,"fontWeight":"normal","color":"#000000","offset":0,"dx":-26,"dy":-27}
}
],
"columns":2,"align":"none","spacing":21,"bounds":"full"
}
